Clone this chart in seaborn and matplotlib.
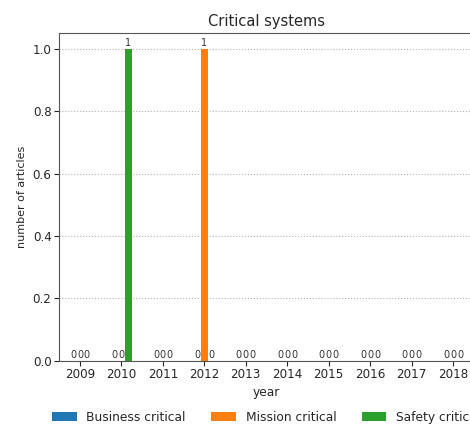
import pandas as pd
import matplotlib.pyplot as plt
import seaborn as sns

# data
years = [2009, 2010, 2011, 2012, 2013, 2014, 2015, 2016, 2017, 2018]
business_critical = [0, 0, 0, 0, 0, 0, 0, 0, 0, 0]
mission_critical = [0, 0, 0, 1, 0, 0, 0, 0, 0, 0]
safety_critical = [0, 1, 0, 0, 0, 0, 0, 0, 0, 0]
series_names = ['Business critical', 'Mission critical', 'Safety critical']

df = pd.DataFrame({
    'year': years * 3,
    'count': business_critical + mission_critical + safety_critical,
    'type': [n for n in series_names for _ in years],
})

sns.set_style("ticks")
plt.rcParams['font.family'] = ['DejaVu Sans']

fig = plt.figure(figsize=(4.7, 4.25), dpi=100)
ax = fig.add_axes([0.126, 0.151, 0.882, 0.771])

sns.barplot(data=df, x='year', y='count', hue='type', hue_order=series_names,
            palette=['#1f77b4', '#ff7f0e', '#2ca02c'], width=0.5,
            saturation=1, linewidth=0, ax=ax)

for c in ax.containers:
    ax.bar_label(c, fmt='%d', fontsize=7, padding=0.5, color='#333333')

ax.set_ylim(0, 1.05)
ax.set_yticks([0.0, 0.2, 0.4, 0.6, 0.8, 1.0])
ax.yaxis.grid(True, linestyle=':', color='#b4b4b4', linewidth=0.8)
ax.set_axisbelow(True)
ax.set_title('Critical systems', fontsize=10.5, pad=5)
ax.set_xlabel('year', fontsize=8.8, labelpad=3)
ax.set_ylabel('number of articles', fontsize=8)
ax.tick_params(labelsize=8.6, pad=2)
for s in ax.spines.values():
    s.set_color('#555555')

# legend runs past the right edge, as in the original crop
ax.legend(loc='upper left', bbox_to_anchor=(0.111, 0.034),
          bbox_transform=fig.transFigure, ncol=3, frameon=False,
          fontsize=8.8, handlelength=2.0, handletextpad=0.8,
          columnspacing=2.1, borderpad=0, borderaxespad=0)

fig.savefig('out.png', dpi=100)
